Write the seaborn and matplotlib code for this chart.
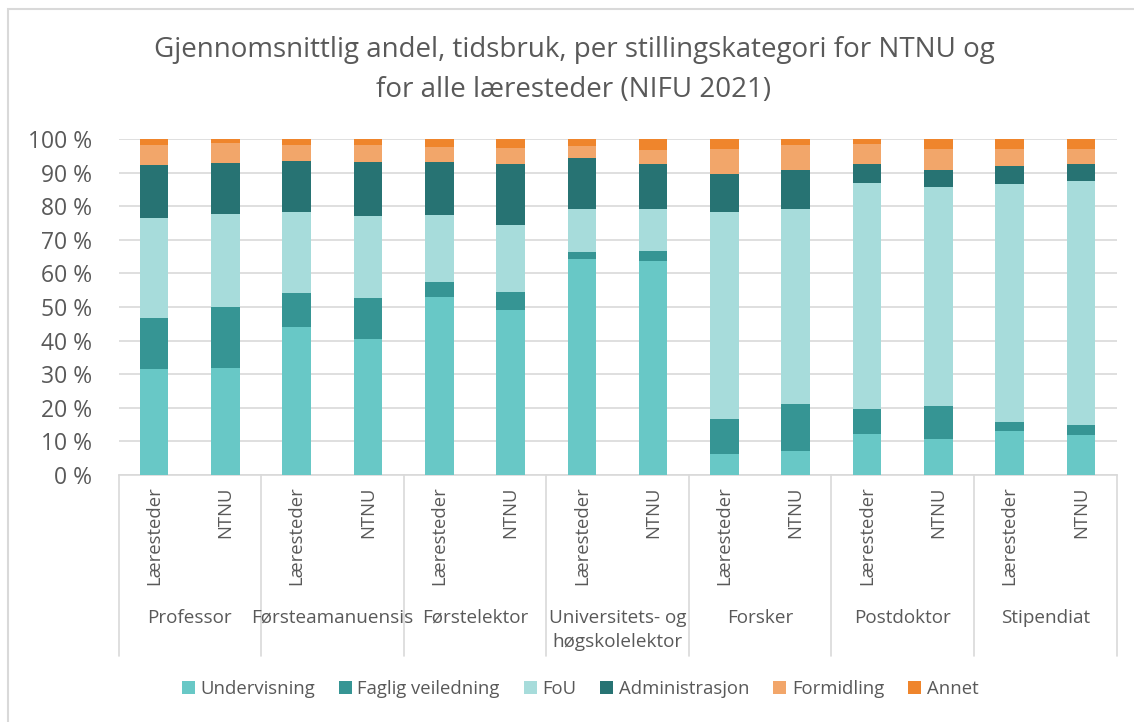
import matplotlib
matplotlib.use("Agg")
import pandas as pd
import matplotlib.pyplot as plt
import matplotlib.transforms as mtransforms
from matplotlib.lines import Line2D
from matplotlib.patches import Patch, Rectangle
import seaborn as sns

# data (andel i prosent, lest av figuren)
grupper = ["Professor", "Førsteamanuensis", "Førstelektor", "Universitets- og\nhøgskolelektor",
           "Forsker", "Postdoktor", "Stipendiat"]
kilder = ["Læresteder", "NTNU"]

undervisning = [31.5, 31.8, 44.0, 40.4, 53.1, 49.0, 64.4, 63.6, 6.2, 7.2, 12.1, 10.8, 13.2, 12.0]
faglig_veiledning = [15.1, 18.1, 10.2, 12.3, 4.4, 5.5, 2.1, 3.1, 10.6, 13.8, 7.5, 9.6, 2.7, 3.0]
fou = [29.8, 27.7, 24.2, 24.3, 19.8, 19.8, 12.7, 12.4, 61.6, 58.3, 67.2, 65.3, 70.6, 72.4]
administrasjon = [16.0, 15.2, 15.2, 16.3, 16.0, 18.3, 15.0, 13.6, 11.1, 11.6, 5.9, 5.0, 5.5, 5.2]
formidling = [5.9, 5.9, 4.5, 4.8, 4.3, 4.8, 3.6, 3.9, 7.4, 7.2, 5.7, 6.4, 4.9, 4.5]
annet = [1.7, 1.3, 1.9, 1.9, 2.4, 2.6, 2.2, 3.4, 3.1, 1.9, 1.6, 2.9, 3.1, 2.9]

serier = ["Undervisning", "Faglig veiledning", "FoU", "Administrasjon", "Formidling", "Annet"]
farger = ["#68C8C6", "#369594", "#A7DCDB", "#277373", "#F2A66A", "#EF852C"]
tekstfarge = "#595959"

df = pd.DataFrame({
    "pos": list(range(len(grupper) * len(kilder))),
    "Undervisning": undervisning,
    "Faglig veiledning": faglig_veiledning,
    "FoU": fou,
    "Administrasjon": administrasjon,
    "Formidling": formidling,
    "Annet": annet,
})

sns.set_style("white")
plt.rcParams["font.family"] = ["Open Sans", "DejaVu Sans"]

fig = plt.figure(figsize=(11.34, 7.22), dpi=100)
ax = fig.add_axes([118.5 / 1134, 1 - 475 / 722, 998 / 1134, 336 / 722])

# stablede søyler: tegn kumulative summer fra toppen og ned
kum = df[serier].cumsum(axis=1)
for navn, farge in reversed(list(zip(serier, farger))):
    sns.barplot(x=df["pos"], y=kum[navn], color=farge, width=0.4, saturation=1,
                errorbar=None, linewidth=0, ax=ax, zorder=3)

ax.set_ylim(0, 100)
ax.set_yticks(range(0, 101, 10))
ax.set_yticklabels([f"{v} %" for v in range(0, 101, 10)], fontsize=16.5, color=tekstfarge)
ax.yaxis.grid(True, color="#D9D9D9", linewidth=1.2, zorder=0)
ax.set_axisbelow(True)
ax.set_xlim(-0.5, len(df) - 0.5)
ax.set_xticks(df["pos"])
ax.set_xticklabels(kilder * len(grupper), rotation=90, fontsize=13.3, color=tekstfarge)
ax.tick_params(axis="x", length=0, pad=8)
ax.tick_params(axis="y", length=0, pad=19)
ax.set_xlabel("")
ax.set_ylabel("")
for s in ["top", "right", "left"]:
    ax.spines[s].set_visible(False)
ax.spines["bottom"].set_color("#D9D9D9")
ax.spines["bottom"].set_linewidth(1.2)

# gruppeetiketter og skillelinjer
trans = mtransforms.blended_transform_factory(ax.transData, fig.transFigure)
for i, g in enumerate(grupper):
    ax.text(2 * i + 0.5, 1 - 609 / 722, g, transform=trans, ha="center", va="top",
            fontsize=13.6, color=tekstfarge, linespacing=1.42)
for i in range(len(grupper) + 1):
    x = 2 * i - 0.5
    ax.add_line(Line2D([x, x], [1 - 475 / 722, 1 - 656 / 722], transform=trans,
                       color="#D9D9D9", linewidth=1.2, clip_on=False))

fig.suptitle("Gjennomsnittlig andel, tidsbruk, per stillingskategori for NTNU og\nfor alle læresteder (NIFU 2021)",
             x=574 / 1134, y=1 - 36 / 722, va="top", fontsize=20, color=tekstfarge, linespacing=1.55)

handles = [Patch(facecolor=f, edgecolor="none", label=n) for n, f in zip(serier, farger)]
fig.legend(handles=handles, loc="center", bbox_to_anchor=(580 / 1134, 1 - 689 / 722), ncol=6,
           frameon=False, fontsize=13.3, labelcolor=tekstfarge, handlelength=0.7, handleheight=0.7,
           handletextpad=0.3, columnspacing=1.3)

fig.patches.append(Rectangle((8 / 1134, -0.02), 1.1, 1 - 9 / 722 + 0.02, transform=fig.transFigure,
                             fill=False, edgecolor="#D9D9D9", linewidth=1.5))

fig.savefig("out.png", dpi=100)
